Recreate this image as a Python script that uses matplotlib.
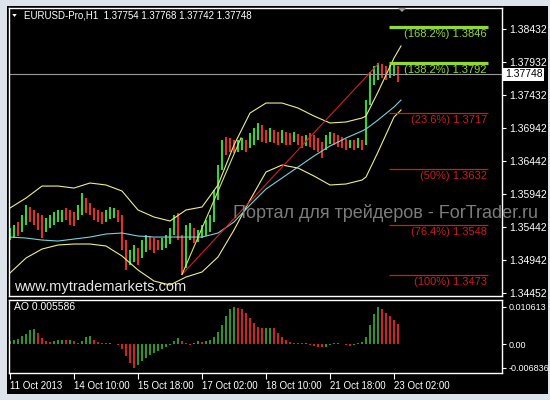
import numpy as np
import matplotlib
matplotlib.use("Agg")
import matplotlib.pyplot as plt
from matplotlib.patches import Rectangle, Polygon
import matplotlib.transforms as mtransforms

plt.rcParams['font.family'] = ['Liberation Sans', 'DejaVu Sans']

# ---- data (2-hour steps, hour 0 = 11 Oct 02:00) ----
bar_hours = np.arange(98) * 2
bar_high = [1.3543, 1.3548, 1.3552, 1.3563, 1.3578, 1.3575, 1.3570, 1.3566, 1.3563, 1.3558,
            1.3563, 1.3567, 1.3570, 1.3570, 1.3573, 1.3570, 1.3567, 1.3578, 1.3596, 1.3588,
            1.3581, 1.3573, 1.3570, 1.3567, 1.3570, 1.3575, 1.3573, 1.3570, 1.3563, 1.3525,
            1.3510, 1.3518, 1.3513, 1.3525, 1.3533, 1.3531, 1.3528, 1.3525, 1.3528, 1.3533,
            1.3543, 1.3563, 1.3566, 1.3533, 1.3548, 1.3551, 1.3543, 1.3540, 1.3548, 1.3555,
            1.3563, 1.3600, 1.3638, 1.3676, 1.3680, 1.3679, 1.3676, 1.3676, 1.3679, 1.3676,
            1.3686, 1.3694, 1.3701, 1.3698, 1.3691, 1.3694, 1.3691, 1.3688, 1.3691, 1.3688,
            1.3686, 1.3688, 1.3685, 1.3682, 1.3683, 1.3686, 1.3683, 1.3679, 1.3673, 1.3683,
            1.3688, 1.3686, 1.3683, 1.3680, 1.3677, 1.3676, 1.3676, 1.3679, 1.3676, 1.3736,
            1.3778, 1.3787, 1.3792, 1.3790, 1.3787, 1.3789, 1.3790, 1.3787]
bar_low = [1.3525, 1.3528, 1.3531, 1.3537, 1.3548, 1.3552, 1.3548, 1.3540, 1.3528, 1.3537,
           1.3543, 1.3548, 1.3552, 1.3552, 1.3555, 1.3548, 1.3546, 1.3555, 1.3563, 1.3566,
           1.3563, 1.3555, 1.3552, 1.3549, 1.3552, 1.3557, 1.3558, 1.3552, 1.3510, 1.3480,
           1.3487, 1.3492, 1.3487, 1.3498, 1.3507, 1.3510, 1.3505, 1.3510, 1.3510, 1.3513,
           1.3519, 1.3533, 1.3525, 1.3472, 1.3483, 1.3525, 1.3521, 1.3522, 1.3528, 1.3531,
           1.3537, 1.3552, 1.3585, 1.3631, 1.3653, 1.3658, 1.3656, 1.3658, 1.3661, 1.3658,
           1.3664, 1.3668, 1.3676, 1.3673, 1.3671, 1.3673, 1.3671, 1.3668, 1.3671, 1.3668,
           1.3668, 1.3673, 1.3668, 1.3664, 1.3667, 1.3665, 1.3661, 1.3658, 1.3649, 1.3661,
           1.3670, 1.3668, 1.3665, 1.3664, 1.3661, 1.3664, 1.3661, 1.3664, 1.3661, 1.3668,
           1.3729, 1.3759, 1.3766, 1.3769, 1.3766, 1.3769, 1.3772, 1.3763]
bar_dir = ("ggrggrrrrg" "ggggrrrggr" "rrrrgggrrr" "ggrggrrrgg" "ggrrggrggg"
           "ggggrrrggr" "gggrrgrrgr" "rgrrgrrrrg" "grrrrgrgrg" "gggrrggr")

line_hours = [0, 8, 16, 24, 32, 40, 48, 56, 64, 72, 80, 88, 96, 104, 112, 120, 128,
              136, 144, 152, 160, 168, 176, 178, 184, 192, 195.5]
bb_upper = [1.35733, 1.35883, 1.36064, 1.36064, 1.36034, 1.36110, 1.36080, 1.35989, 1.35703,
            1.35597, 1.35537, 1.35703, 1.35748, 1.36080, 1.36683, 1.37165, 1.37316, 1.37316,
            1.37241, 1.37120, 1.37015, 1.37030, 1.37090, 1.37120, 1.37482, 1.37995, 1.38176]
bb_lower = [1.34753, 1.34979, 1.35114, 1.35175, 1.35190, 1.35190, 1.35160, 1.35009, 1.34798,
            1.34632, 1.34572, 1.34692, 1.34768, 1.34994, 1.35401, 1.35853, 1.36276, 1.36381,
            1.36336, 1.36215, 1.36080, 1.36095, 1.36155, 1.36200, 1.36577, 1.37105, 1.37211]
ma_line = [1.35295, 1.35280, 1.35250, 1.35235, 1.35265, 1.35295, 1.35341, 1.35356, 1.35311,
           1.35295, 1.35295, 1.35295, 1.35295, 1.35356, 1.35522, 1.35778, 1.36019, 1.36185,
           1.36351, 1.36517, 1.36668, 1.36788, 1.36894, 1.36924, 1.37060, 1.37256, 1.37361]

ao_values = [0.8, 1.2, 1.5, 2.2, 3.0, 4.0, 4.3, 3.2, 1.8, 0.8,
             0.6, 0.9, 1.1, 1.2, 1.1, 1.2, 0.8, 0.4, 1.0, 2.0,
             2.2, 1.2, 0.5, 0.3, 0.2, 0.2, 0.1, -0.2, -1.5, -3.5,
             -5.5, -6.8, -6.0, -5.0, -4.0, -3.2, -2.5, -2.0, -1.5, -0.8,
             -0.3, 0.8, 1.8, 1.0, 0.3, -0.2, 0.3, 0.8, 0.6, 0.8,
             1.2, 2.0, 3.5, 5.5, 8.0, 10.0, 10.6, 10.4, 10.0, 9.0,
             7.5, 6.0, 5.0, 4.6, 4.6, 4.6, 4.5, 3.2, 2.0, 1.2,
             0.6, 0.4, 0.3, 0.2, 0.2, -0.3, -0.5, -0.8, -1.0, -0.8,
             -0.3, 0.2, 0.3, 0.0, -0.3, -0.5, -0.3, 0.2, 0.5, 2.0,
             5.5, 8.5, 10.6, 10.0, 9.0, 8.0, 7.0, 5.6]  # x 0.001

price_ticks = [1.38432, 1.37932, 1.37432, 1.36942, 1.36442, 1.35942, 1.35442, 1.34942, 1.34452]
current_price = 1.37748
trend_start = (86, 1.3473)
trend_end = (184.5, 1.3792)
steep_end = (115.5, 1.3679)
fib_levels = [1.3846, 1.3792, 1.3717, 1.3632, 1.3548, 1.3473]
fib_labels = ['(168.2%) 1.3846', '(138.2%) 1.3792', '(23.6%) 1.3717',
              '(50%) 1.3632', '(76.4%) 1.3548', '(100%) 1.3473']
fib_green = [True, True, False, False, False, False]
time_ticks = [0, 32, 64, 96, 128, 160, 192]
time_labels = ['11 Oct 2013', '14 Oct 10:00', '15 Oct 18:00', '17 Oct 02:00',
               '18 Oct 10:00', '21 Oct 18:00', '23 Oct 02:00']
ao_ticks = [0.010613, 0.0, -0.006836]
ao_tick_labels = ['0.010613', '0.00', '-0.006836']

W, H = 550, 400
BULL = '#3ad23a'
BEAR = '#e0302a'
FIB_G = '#96d832'
FIB_R = '#c81e1e'

fig = plt.figure(figsize=(5.5, 4), dpi=100, facecolor='#dce3eb')
fig.patches.append(Rectangle((7 / W, 6 / H), 541 / W, 388 / H, transform=fig.transFigure,
                             facecolor='black', edgecolor='none', zorder=-10))

ax = fig.add_axes([9 / W, 104 / H, 493 / W, 288 / H])
ax_ao = fig.add_axes([9 / W, 27 / H, 493 / W, 73 / H])

for a in (ax, ax_ao):
    a.set_facecolor('black')
    for s in a.spines.values():
        s.set_color('white')
        s.set_linewidth(1)
    a.set_xlim(-0.5, 246)

# price bars
cols = [BULL if d == 'g' else BEAR for d in bar_dir]
ax.vlines(bar_hours, bar_low, bar_high, colors=cols, linewidth=1.5)

# indicators
ax.plot(line_hours, bb_upper, color='#eeee88', lw=0.8)
ax.plot(line_hours, bb_lower, color='#eeee88', lw=0.8)
ax.plot(line_hours, ma_line, color='#78d2dc', lw=0.8)

ax.axhline(current_price, color='#9a9a9a', lw=0.8)
ax.plot([trend_start[0], trend_end[0]], [trend_start[1], trend_end[1]], color='#d42020', lw=0.8)
ax.plot([trend_start[0], steep_end[0]], [trend_start[1], steep_end[1]], color='#c8ec6a', lw=0.8)

for lvl, lab, g in zip(fib_levels, fib_labels, fib_green):
    c = FIB_G if g else FIB_R
    ax.hlines(lvl, 189.5, 239, color=c, lw=2.3 if g else 0.9)
    ax.annotate(lab, (238.5, lvl), xytext=(0, -1.5), textcoords='offset points',
                ha='right', va='top', color=c, fontsize=8)

ax.set_ylim(1.34406, 1.38749)
ax.yaxis.tick_right()
ax.set_yticks(price_ticks)
ax.set_yticklabels(['%.5f' % p for p in price_ticks])
ax.tick_params(axis='y', colors='white', labelsize=7.5, length=3, width=0.8, pad=2)
ax.set_xticks([])

trans = mtransforms.blended_transform_factory(ax.transAxes, ax.transData)
ax.text(1.006, current_price, '%.5f' % current_price, transform=trans, color='black',
        fontsize=7.5, va='center', ha='left',
        bbox=dict(boxstyle='square,pad=0.15', facecolor='white', edgecolor='none'))

# chart shift marker
ax.add_patch(Polygon([[194, 1.38749], [198, 1.38749], [196, 1.38688]], closed=True,
                     facecolor='#9a9a9a', edgecolor='none', clip_on=False, zorder=5))

# awesome oscillator
ao = np.array(ao_values) * 0.001
ao_cols = ['#2a962a' if i == 0 or ao[i] >= ao[i - 1] else '#d02222' for i in range(len(ao))]
ax_ao.bar(bar_hours, ao, width=1.4, color=ao_cols)
ax_ao.set_ylim(-0.00831, 0.01261)
ax_ao.yaxis.tick_right()
ax_ao.set_yticks(ao_ticks)
ax_ao.set_yticklabels(ao_tick_labels)
ax_ao.tick_params(axis='y', colors='white', labelsize=6.5, length=3, width=0.8, pad=1.5)
ax_ao.set_xticks(time_ticks)
ax_ao.set_xticklabels(time_labels)
ax_ao.tick_params(axis='x', colors='white', labelsize=7, length=4, width=0.8, pad=2)
for t in ax_ao.get_xticklabels():
    t.set_horizontalalignment('left')
ax_ao.text(0.01, 0.9, 'AO 0.005586', transform=ax_ao.transAxes, color='white',
           fontsize=7.5, va='center', ha='left')

# header and watermarks
fig.patches.append(Polygon([[12.3 / W, 1 - 14 / H], [16.7 / W, 1 - 14 / H], [14.5 / W, 1 - 17 / H]],
                           closed=True, transform=fig.transFigure, facecolor='white', zorder=5))
fig.text(24 / W, 1 - 15 / H, 'EURUSD-Pro,H1  1.37754 1.37768 1.37742 1.37748',
         color='white', fontsize=7, va='center', ha='left')
fig.text(14 / W, 1 - 287 / H, 'www.mytrademarkets.com', color='#e6e6e6',
         fontsize=10.5, va='center', ha='left', zorder=10)
fig.text(233 / W, 1 - 213 / H, 'Портал для трейдеров - ForTrader.ru', color='#7c7c7c',
         fontsize=13.0, va='center', ha='left', zorder=10)

fig.savefig('out.png', dpi=100, facecolor=fig.get_facecolor())
